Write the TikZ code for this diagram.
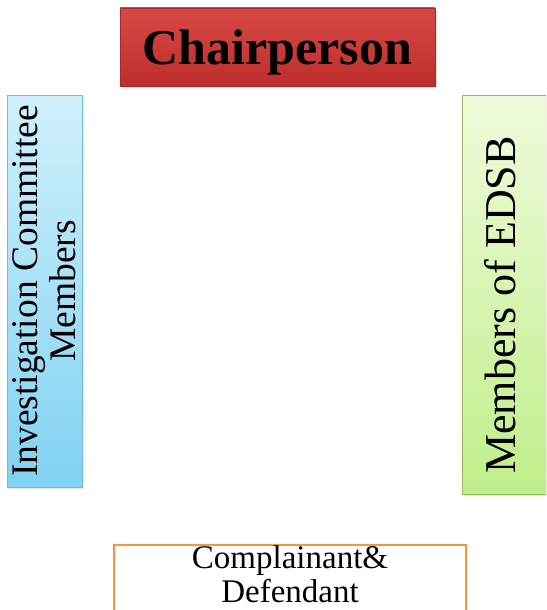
\documentclass[tikz,border=0pt]{standalone}
\usepackage{fontspec}
\setmainfont{Liberation Serif}
\usetikzlibrary{shadows}

\definecolor{chairtop}{RGB}{214,72,70}
\definecolor{chairbot}{RGB}{190,45,45}
\definecolor{chairline}{RGB}{165,45,40}
\definecolor{icmtop}{RGB}{208,240,251}
\definecolor{icmbot}{RGB}{128,210,242}
\definecolor{icmline}{RGB}{112,192,206}
\definecolor{edsbtop}{RGB}{240,251,220}
\definecolor{edsbbot}{RGB}{192,238,138}
\definecolor{edsbline}{RGB}{150,186,100}
\definecolor{cdline}{RGB}{242,150,70}

\begin{document}
\begin{tikzpicture}[x=1pt, y=-1pt, every node/.style={inner sep=0pt, outer sep=0pt},
    box/.style={draw, rectangle, line width=0.8pt, drop shadow={opacity=0.2, shadow xshift=1.5pt, shadow yshift=-2pt}},
    head/.style={box, draw=chairline, top color=chairtop, bottom color=chairbot},
    icm/.style={box, draw=icmline, top color=icmtop, bottom color=icmbot},
    edsb/.style={box, draw=edsbline, top color=edsbtop, bottom color=edsbbot},
    party/.style={draw=cdline, line width=1.4pt, fill=white, rectangle}]
    \clip (0,0) rectangle (546,610);
    \fill[white] (0,0) rectangle (546,610);

    % top
    \node[head, minimum width=315pt, minimum height=78pt, text height=40pt, text depth=4pt,
          font=\fontsize{50}{55}\selectfont\bfseries] (chair) at (277.5,47) {Chairperson};

    % sides
    \node[icm, minimum width=75pt, minimum height=392pt] (comm) at (44.5,291) {};
    \node[rotate=90, align=center, font=\fontsize{37.5}{38}\selectfont] (commtxt) at (comm.center)
        {Investigation Committee\\Members};
    \node[edsb, minimum width=84pt, minimum height=399pt] (edsb) at (504,294.5) {};
    \node[rotate=90, font=\fontsize{44}{48}\selectfont] (edsbtxt) at (500,305) {Members of EDSB};

    % bottom
    \node[party, anchor=north, minimum width=352pt, minimum height=80pt] (cd) at (290,545) {};
    \node[align=center, font=\fontsize{33}{34}\selectfont] (cdtxt) at (290,574) {Complainant\&\\Defendant};
\end{tikzpicture}
\end{document}
